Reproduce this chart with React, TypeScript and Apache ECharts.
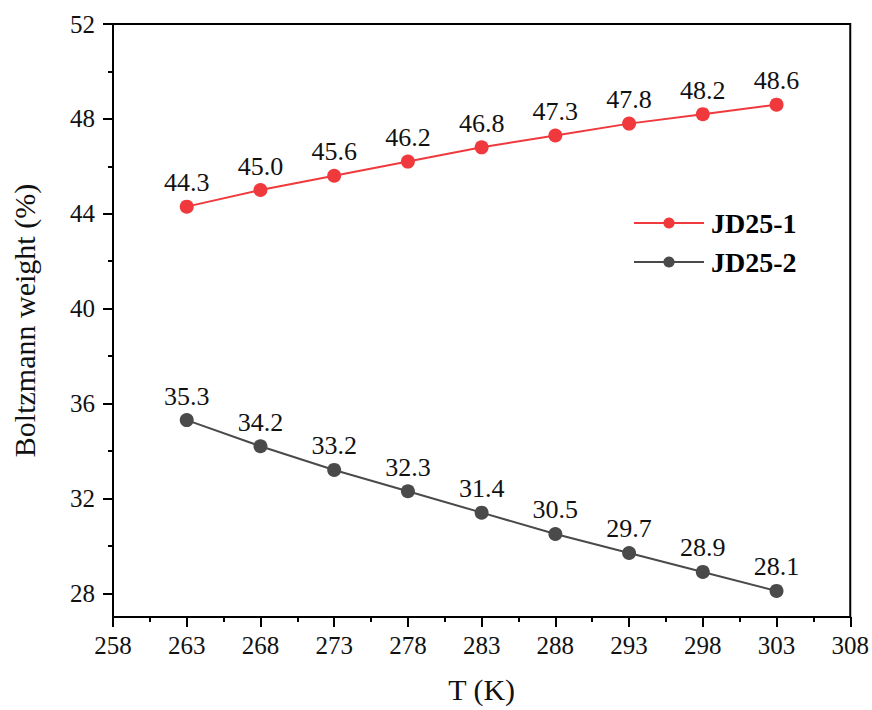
import React, { useEffect, useRef } from "react";
import * as echarts from "echarts";

const temperatures = [263, 268, 273, 278, 283, 288, 293, 298, 303];
const jd251 = [44.3, 45.0, 45.6, 46.2, 46.8, 47.3, 47.8, 48.2, 48.6];
const jd252 = [35.3, 34.2, 33.2, 32.3, 31.4, 30.5, 29.7, 28.9, 28.1];
const yMajorTicks = [28, 32, 36, 40, 44, 48, 52];
const yMinorTicks = [30, 34, 38, 42, 46, 50];

const FONT = "'Liberation Serif', 'Times New Roman', serif";

export default function App() {
  const ref = useRef<HTMLDivElement>(null);
  useEffect(() => {
    if (!ref.current) return;
    const chart = echarts.init(ref.current, undefined, { renderer: "svg" });
    const mk = (name: string, vals: number[], color: string) => ({
      name,
      type: "line",
      data: temperatures.map((t, i) => [t, vals[i]]),
      symbol: "circle",
      symbolSize: 14,
      lineStyle: { color, width: 2 },
      itemStyle: { color },
      label: {
        show: true,
        position: "top",
        distance: 4,
        formatter: (p: any) => Number(p.value[1]).toFixed(1),
        fontFamily: FONT,
        fontSize: 26,
        color: "#111",
      },
    });
    chart.setOption({
      animation: false,
      backgroundColor: "#fff",
      textStyle: { fontFamily: FONT },
      grid: {
        left: 113,
        top: 24,
        right: 21,
        bottom: 93,
        show: true,
        borderColor: "#000",
        borderWidth: 2,
        backgroundColor: "transparent",
      },
      legend: {
        orient: "vertical",
        left: 633,
        top: 209,
        padding: 0,
        itemWidth: 70,
        itemHeight: 14,
        itemGap: 11,
        data: ["JD25-1", "JD25-2"],
        textStyle: { fontFamily: FONT, fontSize: 28, fontWeight: "bold", color: "#000", padding: [0, 0, 0, 2] },
      },
      xAxis: {
        type: "value",
        min: 258,
        max: 308,
        interval: 5,
        name: "T (K)",
        nameLocation: "middle",
        nameGap: 57,
        nameTextStyle: { fontFamily: FONT, fontSize: 30, color: "#111" },
        axisLine: { show: true, lineStyle: { color: "#000", width: 2 } },
        axisTick: { show: true, inside: false, length: 10, lineStyle: { color: "#000", width: 2 } },
        minorTick: { show: true, splitNumber: 2, length: 5, lineStyle: { color: "#000", width: 2 } },
        axisLabel: { fontFamily: FONT, fontSize: 25, color: "#111", margin: 16 },
        splitLine: { show: false },
      },
      yAxis: [
        {
          type: "value",
          min: 27,
          max: 52,
          name: "Boltzmann weight (%)",
          nameLocation: "middle",
          nameGap: 74,
          nameTextStyle: { fontFamily: FONT, fontSize: 30, color: "#111" },
          axisLine: { show: true, lineStyle: { color: "#000", width: 2 } },
          axisTick: {
            show: true,
            length: 10,
            customValues: yMajorTicks,
            lineStyle: { color: "#000", width: 2 },
          },
          axisLabel: {
            fontFamily: FONT,
            fontSize: 25,
            color: "#111",
            margin: 18,
            customValues: yMajorTicks,
          },
          splitLine: { show: false },
        },
        {
          type: "value",
          min: 27,
          max: 52,
          position: "left",
          axisLine: { show: false },
          axisTick: {
            show: true,
            length: 5,
            customValues: yMinorTicks,
            lineStyle: { color: "#000", width: 2 },
          },
          axisLabel: { show: false, customValues: yMinorTicks },
          splitLine: { show: false },
        },
      ],
      series: [mk("JD25-1", jd251, "#f0393d"), mk("JD25-2", jd252, "#4a4a4a")],
    });
    return () => chart.dispose();
  }, []);
  return (
    <div
      ref={ref}
      style={{ position: "fixed", left: 0, top: 0, width: 872, height: 710 }}
    />
  );
}
